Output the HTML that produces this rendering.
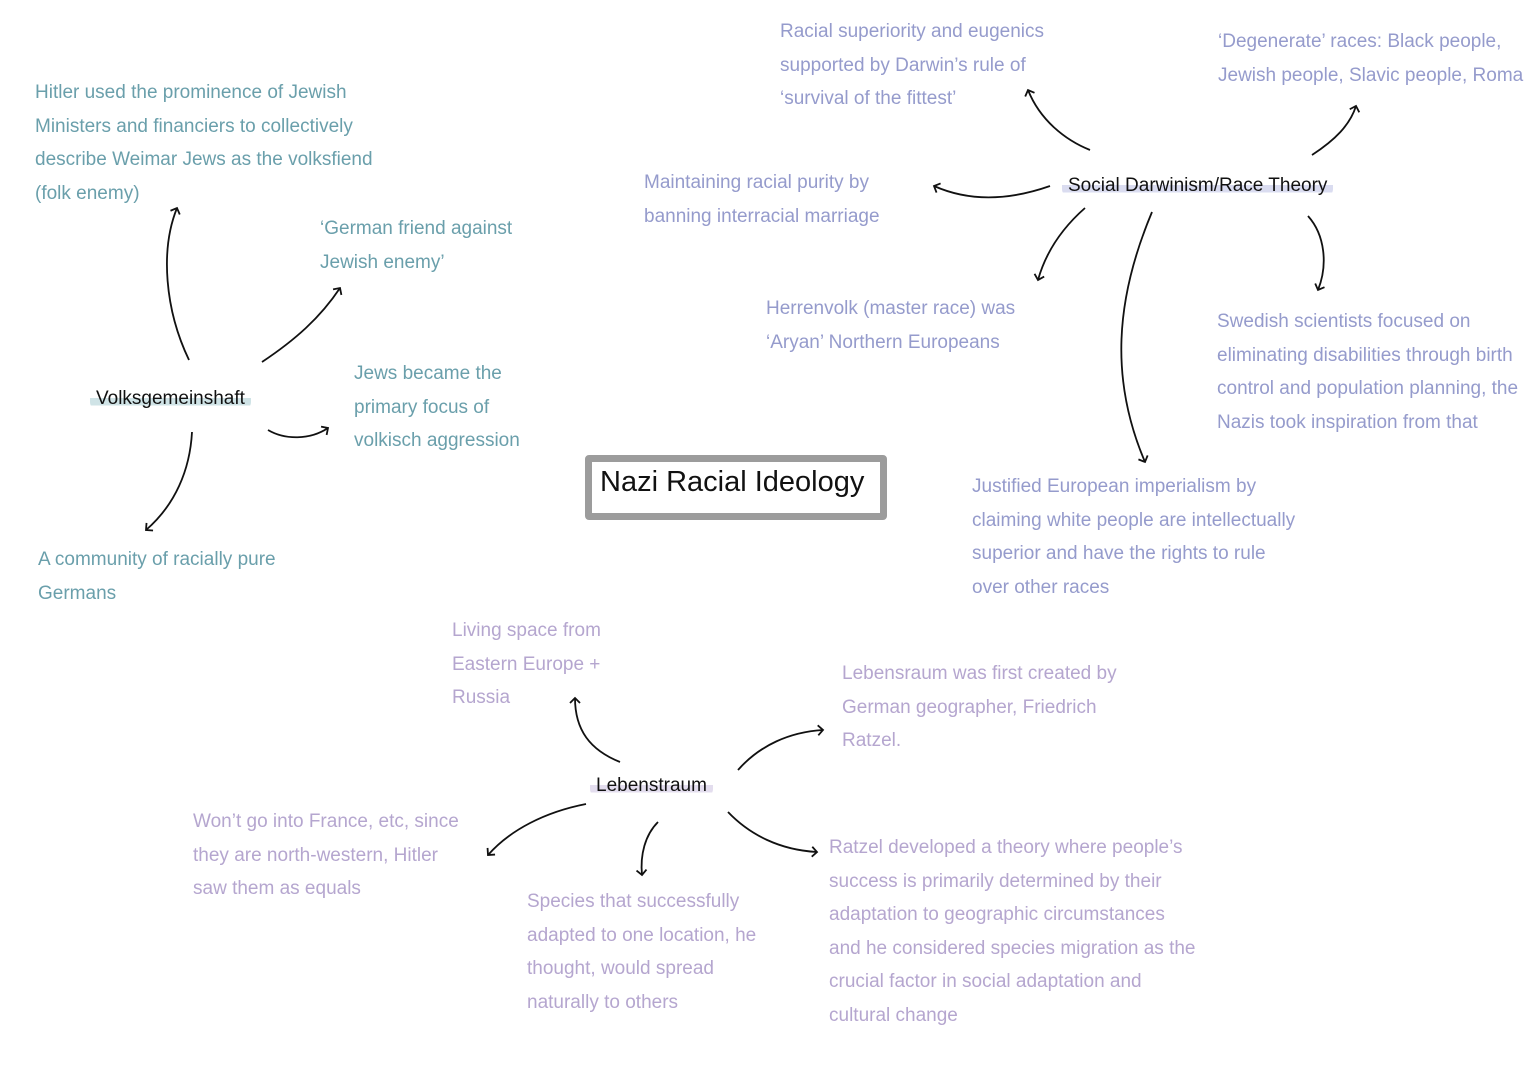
<!DOCTYPE html>
<html><head><meta charset="utf-8"><style>
body{margin:0;width:1527px;height:1080px;background:#fff;position:relative;overflow:hidden;font-family:"Liberation Sans",sans-serif}
.t{position:absolute;white-space:nowrap;font-size:19px;line-height:33.5px}
.v{color:#6a9fab}.s{color:#959bcc}.l{color:#b5a6cf}
.n{position:absolute;white-space:nowrap;font-size:19px;color:#111;padding:0 6px;border-radius:8px}
svg{position:absolute;left:0;top:0}
</style></head><body>
<svg width="1527" height="1080" fill="none" stroke="#111" stroke-width="1.8">
<defs><marker id="a" markerWidth="12" markerHeight="12" refX="6" refY="6" orient="auto" markerUnits="userSpaceOnUse"><path d="M1,1 L6,6 L1,11" stroke="#111" stroke-width="1.8" fill="none"/></marker></defs>
<path d="M189,360 C165,310 160,250 177,208" marker-end="url(#a)"/>
<path d="M262,362 C295,340 320,318 340,288" marker-end="url(#a)"/>
<path d="M268,430 C285,440 310,440 328,428" marker-end="url(#a)"/>
<path d="M192,432 C190,470 175,505 146,530" marker-end="url(#a)"/>
<path d="M1090,150 C1065,140 1040,120 1028,90" marker-end="url(#a)"/>
<path d="M1312,155 C1335,140 1350,125 1356,106" marker-end="url(#a)"/>
<path d="M1050,186 C1010,200 970,202 934,186" marker-end="url(#a)"/>
<path d="M1085,208 C1060,230 1045,255 1038,280" marker-end="url(#a)"/>
<path d="M1152,212 C1115,300 1110,380 1145,462" marker-end="url(#a)"/>
<path d="M1308,216 C1325,235 1328,265 1318,290" marker-end="url(#a)"/>
<path d="M620,762 C590,750 575,730 575,698" marker-end="url(#a)"/>
<path d="M738,770 C760,745 790,732 823,730" marker-end="url(#a)"/>
<path d="M586,804 C545,812 510,830 488,855" marker-end="url(#a)"/>
<path d="M658,822 C645,835 640,855 642,875" marker-end="url(#a)"/>
<path d="M728,812 C750,835 780,850 817,852" marker-end="url(#a)"/>
</svg>
<div style="position:absolute;left:585px;top:455px;width:288px;height:51px;border:7px solid #9c9c9c;border-radius:4px;background:#fff"></div>
<div style="position:absolute;left:600px;top:466px;font-size:29px;color:#111;white-space:nowrap">Nazi Racial Ideology</div>
<div class="n" style="left:90px;top:388px;background:linear-gradient(#fff 45%,#cfe3e6 45%,#cfe3e6 80%,#fff 80%)">Volksgemeinshaft</div>
<div class="n" style="left:1062px;top:175px;background:linear-gradient(#fff 45%,#dadcf0 45%,#dadcf0 80%,#fff 80%)">Social Darwinism/Race Theory</div>
<div class="n" style="left:590px;top:775px;background:linear-gradient(#fff 45%,#e3ddee 45%,#e3ddee 80%,#fff 80%)">Lebenstraum</div>
<div class="t v" style="left:35px;top:76px">Hitler used the prominence of Jewish<br>Ministers and financiers to collectively<br>describe Weimar Jews as the volksfiend<br>(folk enemy)</div>
<div class="t v" style="left:320px;top:212px">‘German friend against<br>Jewish enemy’</div>
<div class="t v" style="left:354px;top:357px">Jews became the<br>primary focus of<br>volkisch aggression</div>
<div class="t v" style="left:38px;top:543px">A community of racially pure<br>Germans</div>
<div class="t s" style="left:780px;top:15px">Racial superiority and eugenics<br>supported by Darwin’s rule of<br>‘survival of the fittest’</div>
<div class="t s" style="left:1218px;top:25px">‘Degenerate’ races: Black people,<br>Jewish people, Slavic people, Roma</div>
<div class="t s" style="left:644px;top:166px">Maintaining racial purity by<br>banning interracial marriage</div>
<div class="t s" style="left:766px;top:292px">Herrenvolk (master race) was<br>‘Aryan’ Northern Europeans</div>
<div class="t s" style="left:1217px;top:305px">Swedish scientists focused on<br>eliminating disabilities through birth<br>control and population planning, the<br>Nazis took inspiration from that</div>
<div class="t s" style="left:972px;top:470px">Justified European imperialism by<br>claiming white people are intellectually<br>superior and have the rights to rule<br>over other races</div>
<div class="t l" style="left:452px;top:614px">Living space from<br>Eastern Europe +<br>Russia</div>
<div class="t l" style="left:842px;top:657px">Lebensraum was first created by<br>German geographer, Friedrich<br>Ratzel.</div>
<div class="t l" style="left:193px;top:805px">Won’t go into France, etc, since<br>they are north-western, Hitler<br>saw them as equals</div>
<div class="t l" style="left:527px;top:885px">Species that successfully<br>adapted to one location, he<br>thought, would spread<br>naturally to others</div>
<div class="t l" style="left:829px;top:831px">Ratzel developed a theory where people’s<br>success is primarily determined by their<br>adaptation to geographic circumstances<br>and he considered species migration as the<br>crucial factor in social adaptation and<br>cultural change</div>
</body></html>
